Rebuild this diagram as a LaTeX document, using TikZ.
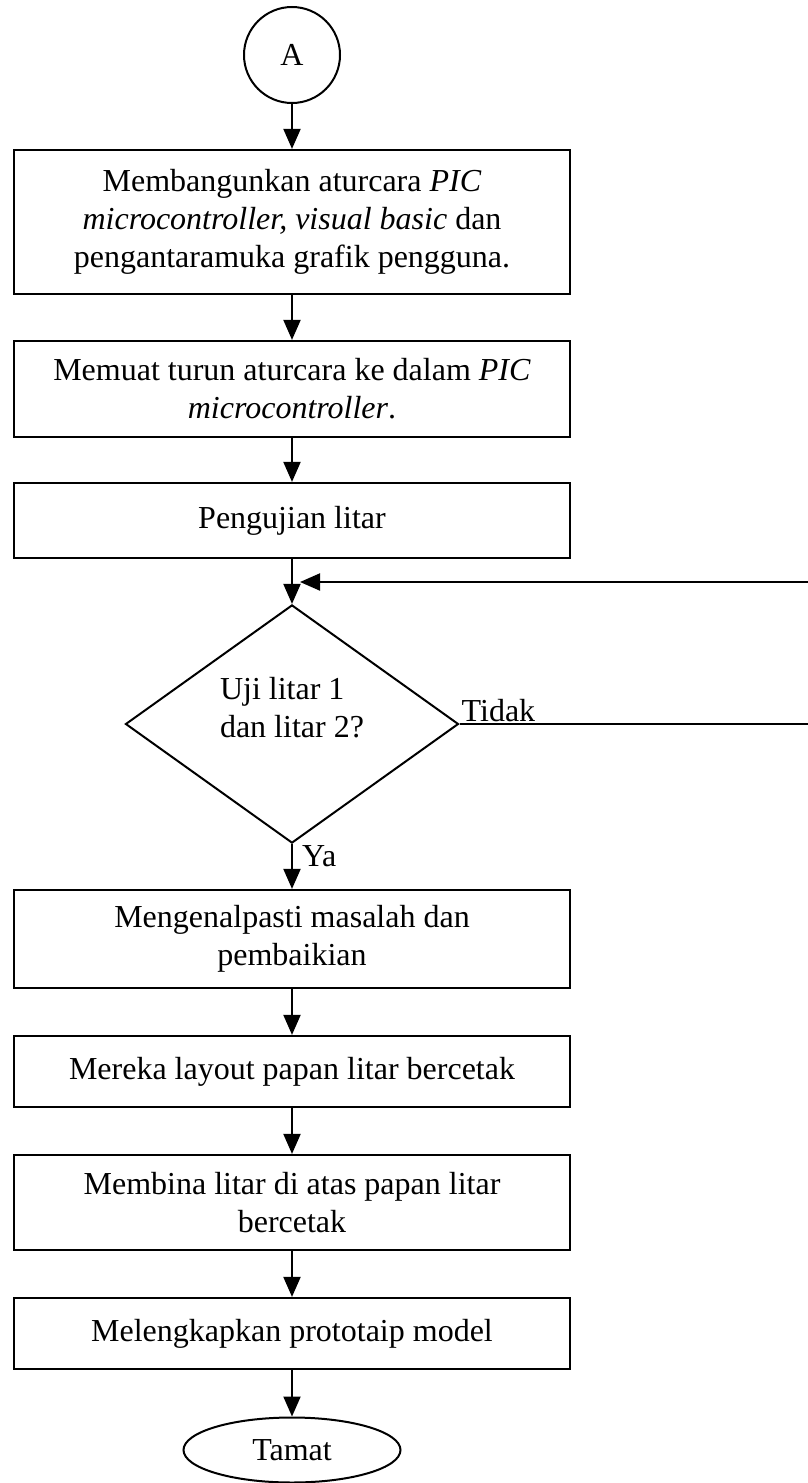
\documentclass[tikz,border=0pt]{standalone}
\usepackage{fontspec}
\setmainfont{Liberation Serif}
\usetikzlibrary{shapes.geometric,arrows.meta}

\begin{document}
\begin{tikzpicture}[x=1pt,y=-1pt]
        \tikzstyle{tulis}=[font=\fontsize{32}{38}\selectfont]
        \tikzstyle{blok}=[tulis, rectangle, draw, line width=2.2pt, minimum width=556pt, align=center, inner sep=0pt]
        \tikzstyle{anak}=[-{Triangle[length=20pt,width=17pt]}, line width=2pt]

        \useasboundingbox (0,0) rectangle (808,1483);

        \node[tulis, circle, draw, line width=2pt, minimum size=96pt, inner sep=0pt] (a) at (292,55) {A};
        \node[blok, minimum height=144pt] (b) at (292,222) {Membangunkan aturcara \textit{PIC}\\ \textit{microcontroller, visual basic} dan\\ pengantaramuka grafik pengguna.};
        \node[blok, minimum height=96pt]  (c) at (292,389) {Memuat turun aturcara ke dalam \textit{PIC}\\ \textit{microcontroller}.};
        \node[blok, minimum height=75pt]  (d) at (292,520.5) {Pengujian litar};
        \node[tulis, diamond, draw, line width=2pt, minimum width=333pt, minimum height=238pt, inner sep=0pt, align=left, text depth=34pt] (e) at (292,724) {Uji litar 1\\ dan litar 2?};
        \node[blok, minimum height=98pt]  (f) at (292,939) {Mengenalpasti masalah dan\\ pembaikian};
        \node[blok, minimum height=71pt]  (g) at (292,1071.5) {Mereka layout papan litar bercetak};
        \node[blok, minimum height=95pt]  (h) at (292,1202.5) {Membina litar di atas papan litar\\ bercetak};
        \node[blok, minimum height=71pt]  (i) at (292,1333.5) {Melengkapkan prototaip model};
        \node[tulis, ellipse, draw, line width=2pt, minimum width=217pt, minimum height=65pt, inner sep=0pt] (j) at (292,1450) {Tamat};

        \node[tulis, anchor=south west, inner sep=2pt] (tidak) at (e.east) {Tidak};
        \node[tulis, anchor=west, inner sep=0pt] (ya) at ([shift={(10,12)}]e.south) {Ya};

        \coordinate (r1) at (808,582);
        \coordinate (r2) at (808,724);
        \coordinate (m) at (300,582);

        \draw[anak] (a) -- (b);
        \draw[anak] (b) -- (c);
        \draw[anak] (c) -- (d);
        \draw[anak] (d) -- (e);
        \draw[anak] (e) -- (f);
        \draw[anak] (f) -- (g);
        \draw[anak] (g) -- (h);
        \draw[anak] (h) -- (i);
        \draw[anak] (i) -- (j);
        \draw[line width=2pt] (e.east) -- (r2);
        \draw[anak] (r1) -- (m);
    \end{tikzpicture}
\end{document}
